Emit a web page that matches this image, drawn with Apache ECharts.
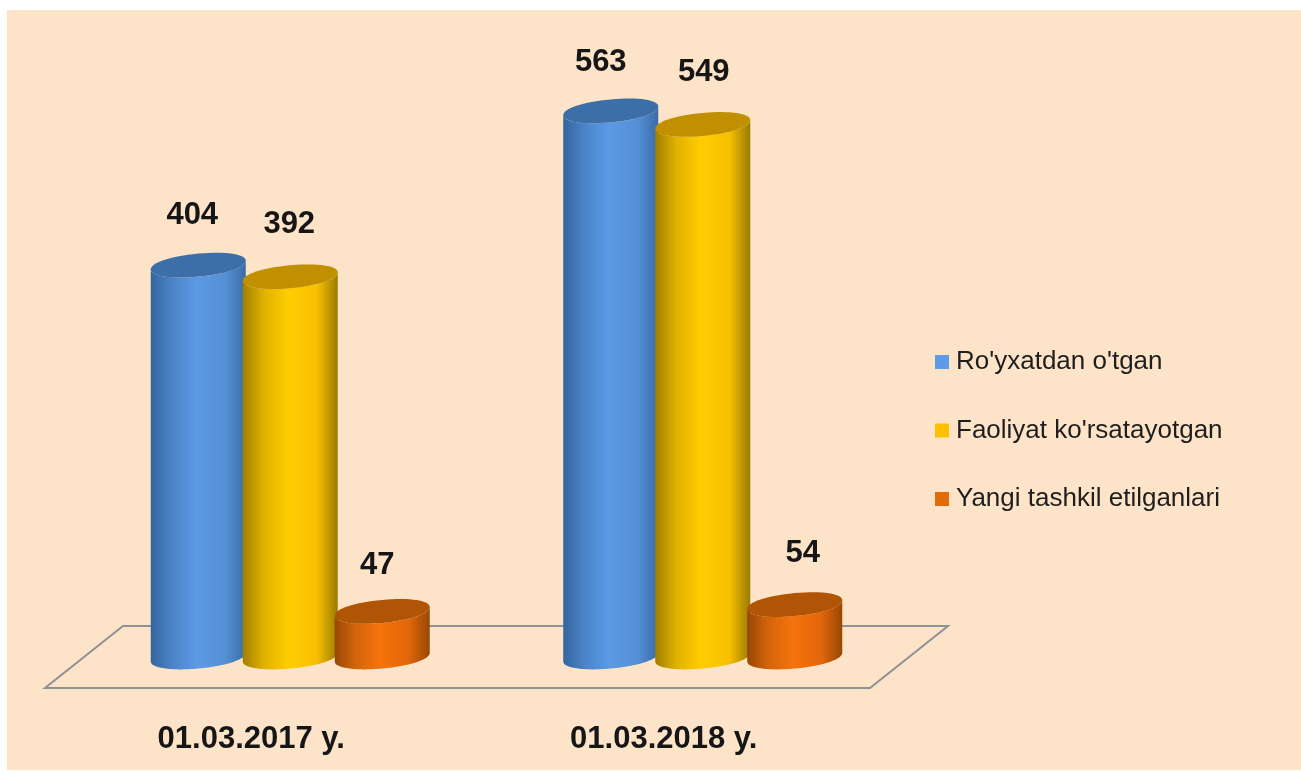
<!DOCTYPE html>
<html><head><meta charset="utf-8">
<style>html,body{margin:0;padding:0;background:#fff}#c{width:1301px;height:773px;filter:blur(0.6px)}</style>
<script src="https://cdn.jsdelivr.net/npm/echarts@6/dist/echarts.min.js"></script>
</head><body><div id="c"></div>
<script>
const categories = ['01.03.2017 y.', '01.03.2018 y.'];
const registered = [404, 563];
const active = [392, 549];
const newlyFormed = [47, 54];
const seriesNames = ["Ro'yxatdan o'tgan", "Faoliyat ko'rsatayotgan", "Yangi tashkil etilganlari"];

const FONT = '"Liberation Sans", Arial, sans-serif';
const DEPTH = {x: 78, y: 62};
const RADIUS = 47.5, SHEAR = 0.09, MINOR = 11.5, STEP = 92, ROUNDNESS = 0.95;
const styles = [
  {legend:'#5B9BE8', top:'#3C6EA8', stops:['#34659F','#4A83C6','#5C9AE6','#5590D6','#3A6CA6']},
  {legend:'#FFC000', top:'#C09000', stops:['#A07F00','#E0B100','#FFCC00','#F8C000','#9A7A00']},
  {legend:'#E36C0A', top:'#B05405', stops:['#964805','#D4640A','#F5730C','#E2660A','#964805']}
];
const labelNudge = [[[-6,-50],[-10,-48]],[[-1,-52],[1,-52]],[[-5,-46],[8,-51]]];

function spow(v) { return Math.sign(v) * Math.pow(Math.abs(v), ROUNDNESS); }
function ellipsePts(cx, cy, from, to) {
  const pts = [];
  for (let i = 0; i <= 64; i++) {
    const t = from + (to - from) * i / 64;
    const dx = RADIUS * spow(Math.cos(t));
    pts.push([cx + dx, cy - SHEAR * dx + MINOR * spow(Math.sin(t))]);
  }
  return pts;
}
function cylinder(idx) {
  return function (params, api) {
    const cat = api.value(0), val = api.value(1);
    const base = api.coord([cat, 0]), top = api.coord([cat, val]);
    const cx = base[0] + DEPTH.x / 2 + (idx - 1) * STEP;
    const yb = base[1] - DEPTH.y / 2, yt = top[1] - DEPTH.y / 2;
    const s = styles[idx];
    const topRing = ellipsePts(cx, yt, 0, Math.PI * 2);
    const body = ellipsePts(cx, yb, 0, Math.PI).concat(ellipsePts(cx, yt, Math.PI, 0));
    const grad = new echarts.graphic.LinearGradient(0, 0, 1, 0, [
      {offset:0, color:s.stops[0]}, {offset:.22, color:s.stops[1]},
      {offset:.48, color:s.stops[2]}, {offset:.78, color:s.stops[3]}, {offset:1, color:s.stops[4]}
    ]);
    const n = labelNudge[idx][cat];
    return {type:'group', children:[
      {type:'polygon', shape:{points:body}, style:{fill:grad}},
      {type:'polygon', shape:{points:topRing}, style:{fill:s.top}},
      {type:'text', style:{text:String(val), x:cx + n[0], y:yt + n[1], align:'center', verticalAlign:'middle',
        font:'bold 31px ' + FONT, fill:'#161616'}}
    ]};
  };
}
function floor(params) {
  const c = params.coordSys, y = c.y + c.height;
  return {type:'polygon', shape:{points:[[c.x,y],[c.x + c.width,y],[c.x + c.width + DEPTH.x,y - DEPTH.y],[c.x + DEPTH.x,y - DEPTH.y]]},
    style:{fill:'none', stroke:'#8E9296', lineWidth:2}, silent:true};
}
const toData = a => a.map((v, i) => [i, v]);
const chart = echarts.init(document.getElementById('c'), null, {renderer:'canvas', width:1301, height:773});
chart.setOption({
  animation:false,
  backgroundColor:'#FFFFFF',
  graphic:[{type:'rect', z:-10, shape:{x:7, y:10, width:1294, height:760}, style:{fill:'#FDE3C7'}}],
  grid:{left:45, top:106, width:825, height:582},
  xAxis:{type:'category', data:categories, axisLine:{show:false}, axisTick:{show:false}, splitLine:{show:false},
    axisLabel:{margin:36, fontFamily:FONT, fontWeight:'bold', fontSize:31, color:'#161616'}},
  yAxis:{type:'value', min:0, max:600, show:false},
  legend:{orient:'vertical', left:930, top:344, itemWidth:14, itemHeight:14, itemGap:42.5, icon:'rect',
    textStyle:{fontFamily:FONT, fontSize:26, color:'#1E1E1E', padding:[0,0,0,2]}, itemStyle:{borderWidth:0}, selectedMode:false,
    data:seriesNames},
  series:[
    {type:'custom', name:'floor', z:1, data:[[0,0]], renderItem:floor, silent:true},
    {type:'custom', name:seriesNames[0], z:2, data:toData(registered), encode:{x:0,y:1}, itemStyle:{color:styles[0].legend}, renderItem:cylinder(0)},
    {type:'custom', name:seriesNames[1], z:3, data:toData(active), encode:{x:0,y:1}, itemStyle:{color:styles[1].legend}, renderItem:cylinder(1)},
    {type:'custom', name:seriesNames[2], z:4, data:toData(newlyFormed), encode:{x:0,y:1}, itemStyle:{color:styles[2].legend}, renderItem:cylinder(2)}
  ]
});
</script></body></html>
